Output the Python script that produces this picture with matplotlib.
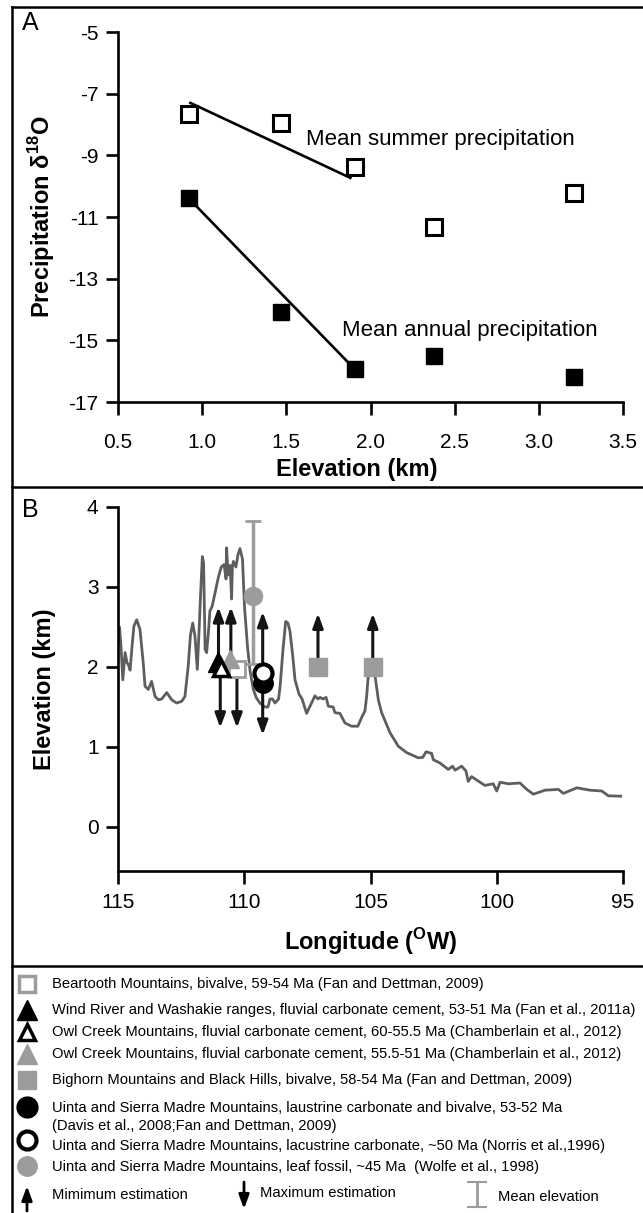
import matplotlib
matplotlib.use('Agg')
import matplotlib.pyplot as plt
from matplotlib.lines import Line2D

plt.rcParams['font.family'] = ['Liberation Sans', 'DejaVu Sans']
plt.rcParams['mathtext.fontset'] = 'custom'
plt.rcParams['mathtext.rm'] = 'Liberation Sans'
plt.rcParams['mathtext.bf'] = 'Liberation Sans:bold'
plt.rcParams['axes.unicode_minus'] = False

# ---- panel A data: precipitation d18O vs elevation
elev_km = [0.92, 1.47, 1.91, 2.38, 3.21]
summer_d18o = [-7.65, -7.95, -9.38, -11.33, -10.23]
annual_d18o = [-10.37, -14.07, -15.92, -15.51, -16.18]
summer_fit_x = [0.93, 1.88]
summer_fit_y = [-7.3, -9.73]
annual_fit_x = [0.93, 1.90]
annual_fit_y = [-10.45, -15.9]

# ---- panel B data: elevation profile along longitude
prof_lon = [115.00, 114.94, 114.88, 114.81, 114.72, 114.64, 114.59, 114.52, 114.46, 114.37,
            114.26, 114.13, 114.00, 113.93, 113.80, 113.67, 113.53, 113.40, 113.27, 113.07,
            112.87, 112.68, 112.48, 112.35, 112.22, 112.13, 112.04, 111.95, 111.86, 111.79,
            111.73, 111.66, 111.61, 111.55, 111.49, 111.42, 111.36, 111.27, 111.14, 111.02,
            110.91, 110.80, 110.72, 110.70, 110.64, 110.56, 110.50, 110.47, 110.43, 110.33,
            110.25, 110.17, 110.07, 109.99, 109.87, 109.77, 109.64, 109.53, 109.38, 109.18,
            109.06, 108.98, 108.88, 108.78, 108.64, 108.58, 108.47, 108.36, 108.27, 108.19,
            108.08, 107.99, 107.83, 107.71, 107.53, 107.20, 107.08, 107.00, 106.88, 106.76,
            106.67, 106.48, 106.41, 106.21, 106.01, 105.75, 105.50, 105.35, 105.22, 105.15,
            105.09, 104.98, 104.82, 104.69, 104.56, 104.23, 103.90, 103.57, 103.11, 102.93,
            102.80, 102.58, 102.51, 102.25, 101.92, 101.75, 101.65, 101.39, 101.22, 101.13,
            101.00, 100.47, 100.14, 100.00, 99.87, 99.54, 99.08, 98.81, 98.55, 98.09,
            97.56, 97.36, 96.83, 96.31, 95.84, 95.58, 95.09]
prof_elev = [2.30, 2.50, 2.25, 1.84, 2.18, 2.05, 2.03, 1.96, 2.20, 2.51,
             2.59, 2.47, 2.05, 1.76, 1.72, 1.82, 1.63, 1.59, 1.60, 1.68,
             1.59, 1.55, 1.57, 1.63, 2.01, 2.40, 2.55, 2.38, 1.97, 2.45,
             2.90, 3.38, 3.30, 2.22, 2.18, 2.43, 2.70, 2.76, 2.95, 3.13,
             3.25, 3.28, 3.10, 3.49, 3.15, 3.27, 2.85, 3.25, 3.32, 3.25,
             3.40, 3.48, 3.35, 2.75, 2.25, 1.95, 1.72, 1.62, 1.55, 1.50,
             1.50, 1.60, 1.60, 1.55, 1.60, 1.76, 2.20, 2.57, 2.55, 2.45,
             2.14, 1.84, 1.66, 1.60, 1.42, 1.64, 1.60, 1.62, 1.60, 1.62,
             1.51, 1.50, 1.43, 1.42, 1.30, 1.26, 1.26, 1.37, 1.45, 1.64,
             1.89, 1.98, 1.89, 1.59, 1.43, 1.18, 1.01, 0.93, 0.865, 0.87,
             0.94, 0.92, 0.84, 0.80, 0.72, 0.76, 0.71, 0.76, 0.70, 0.57,
             0.63, 0.52, 0.54, 0.45, 0.56, 0.54, 0.55, 0.47, 0.41, 0.46,
             0.47, 0.42, 0.49, 0.46, 0.45, 0.39, 0.385]

# paleoelevation estimates (lon, elev, arrow end)
beartooth = (110.29, 1.98, 1.24)
windriver = (111.04, 2.06, 2.75)
owl_open = (110.94, 1.99, 1.24)
owl_gray = (110.56, 2.10, 2.75)
bighorn_lon = [107.08, 104.91]
bighorn_elev = [2.0, 2.0]
bighorn_min = 2.67
uinta_lon = 109.27
uinta_carb_bival = 1.80
uinta_lac = 1.92
uinta_min = 2.69
uinta_max = 1.15
leaf = (109.65, 2.89, 2.04, 3.83)

legend_labels = [
    'Beartooth Mountains, bivalve, 59-54 Ma (Fan and Dettman, 2009)',
    'Wind River and Washakie ranges, fluvial carbonate cement, 53-51 Ma (Fan et al., 2011a)',
    'Owl Creek Mountains, fluvial carbonate cement, 60-55.5 Ma (Chamberlain et al., 2012)',
    'Owl Creek Mountains, fluvial carbonate cement, 55.5-51 Ma (Chamberlain et al., 2012)',
    'Bighorn Mountains and Black Hills, bivalve, 58-54 Ma (Fan and Dettman, 2009)',
    'Uinta and Sierra Madre Mountains, laustrine carbonate and bivalve, 53-52 Ma\n(Davis et al., 2008;Fan and Dettman, 2009)',
    'Uinta and Sierra Madre Mountains, lacustrine carbonate, ~50 Ma (Norris et al.,1996)',
    'Uinta and Sierra Madre Mountains, leaf fossil, ~45 Ma  (Wolfe et al., 1998)',
]

GRAY = '#9c9c9c'
PROF = '#5e5e5e'
ARW = '#141414'

fig = plt.figure(figsize=(6.43, 12.13), dpi=100)
H = 1213.0

def frac(y):
    return 1 - y / H

def style_axes(ax):
    for s in ['top', 'right']:
        ax.spines[s].set_visible(False)
    for s in ['left', 'bottom']:
        ax.spines[s].set_linewidth(1.9)
    ax.tick_params(direction='out', length=9, width=1.9, labelsize=15)

def arrow(ax, x, y0, y1):
    ax.annotate('', xy=(x, y1), xytext=(x, y0),
                arrowprops=dict(arrowstyle='-|>,head_length=0.6,head_width=0.22',
                                color=ARW, lw=2.2, mutation_scale=14,
                                shrinkA=0, shrinkB=0), zorder=3)

# ---------------- panel A
axA = fig.add_axes([118 / 643, frac(402), 505 / 643, 370 / H])
style_axes(axA)
axA.plot(summer_fit_x, summer_fit_y, color='black', lw=1.9, zorder=2)
axA.plot(annual_fit_x, annual_fit_y, color='black', lw=1.9, zorder=2)
axA.plot(elev_km, summer_d18o, 's', ms=11, mfc='white', mec='black', mew=2.2, ls='none', zorder=3)
axA.plot(elev_km, annual_d18o, 's', ms=12, mfc='black', mec='black', ls='none', zorder=3)
axA.set_xlim(0.5, 3.5)
axA.set_ylim(-17, -5)
axA.set_xticks([0.5, 1.0, 1.5, 2.0, 2.5, 3.0, 3.5])
axA.set_xticklabels(['0.5', '1.0', '1.5', '2.0', '2.5', '3.0', '3.5'])
axA.set_yticks([-5, -7, -9, -11, -13, -15, -17])
axA.tick_params(axis='x', pad=13)
axA.tick_params(axis='y', pad=5)
axA.text(1.615, -8.5, 'Mean summer precipitation', fontsize=16, va='center')
axA.text(1.83, -14.68, 'Mean annual precipitation', fontsize=16, va='center')
axA.set_xlabel('Elevation (km)', fontsize=17, fontweight='bold')
axA.xaxis.set_label_coords(0.473, -0.15)
axA.set_ylabel('Precipitation δ$^{\\mathbf{18}}$O', fontsize=17, fontweight='bold')
axA.yaxis.set_label_coords(-0.12, 0.5)

# ---------------- panel B
axB = fig.add_axes([118 / 643, frac(871), 505 / 643, 364 / H])
style_axes(axB)
axB.plot(prof_lon, prof_elev, color=PROF, lw=2, zorder=1)
axB.errorbar(leaf[0], leaf[1], yerr=[[leaf[1] - leaf[2]], [leaf[3] - leaf[1]]],
             fmt='o', ms=13, color=GRAY, ecolor=GRAY, elinewidth=2.5,
             capsize=6, capthick=2, zorder=2)
arrow(axB, windriver[0] - 0.02, windriver[1], windriver[2])
arrow(axB, owl_gray[0] - 0.03, owl_gray[1], owl_gray[2])
arrow(axB, owl_open[0] + 0.01, owl_open[1], owl_open[2])
arrow(axB, beartooth[0], beartooth[1], beartooth[2])
for lon, el in zip(bighorn_lon, bighorn_elev):
    arrow(axB, lon, el, bighorn_min)
arrow(axB, uinta_lon, uinta_lac, uinta_min)
arrow(axB, uinta_lon, uinta_carb_bival, uinta_max)
axB.plot(beartooth[0], beartooth[1], 's', ms=11, mfc='white', mec=GRAY, mew=2, zorder=4)
axB.plot(owl_gray[0], owl_gray[1], '^', ms=13, color=GRAY, zorder=4)
axB.plot(windriver[0], windriver[1], '^', ms=15, color='black', zorder=5)
axB.plot(owl_open[0], owl_open[1], '^', ms=12, mfc='white', mec='black', mew=2.5, zorder=6)
axB.plot(bighorn_lon, bighorn_elev, 's', ms=12.5, color=GRAY, ls='none', zorder=4)
axB.plot(uinta_lon, uinta_carb_bival, 'o', ms=14, color='black', zorder=5)
axB.plot(uinta_lon, uinta_lac, 'o', ms=13, mfc='white', mec='black', mew=3, zorder=6)
axB.set_xlim(115, 95)
axB.set_ylim(-0.55, 4)
axB.set_xticks([115, 110, 105, 100, 95])
axB.set_yticks([0, 1, 2, 3, 4])
axB.tick_params(axis='x', pad=7)
axB.tick_params(axis='y', pad=5)
axB.set_xlabel('Longitude ($^{\\mathbf{O}}$W)', fontsize=17, fontweight='bold')
axB.xaxis.set_label_coords(0.5, -0.152)
axB.set_ylabel('Elevation (km)', fontsize=17, fontweight='bold')
axB.yaxis.set_label_coords(-0.122, 0.5)

# panel letters and frame
fig.text(22 / 643, frac(23), 'A', fontsize=18, va='center', ha='left')
fig.text(22 / 643, frac(510), 'B', fontsize=18, va='center', ha='left')
x0 = 12 / 643
fig.add_artist(Line2D([x0, x0], [0, frac(7)], color='black', lw=1.8))
for yy in [7, 487, 966]:
    fig.add_artist(Line2D([x0, 1], [frac(yy), frac(yy)], color='black', lw=1.8))

# ---------------- legend panel
axL = fig.add_axes([0, 0, 1, (H - 966) / H])
axL.set_xlim(0, 643)
axL.set_ylim(H, 966)
axL.axis('off')
sym_x = 27
txt_x = 52
row_y = [984, 1010, 1032, 1054, 1080, 1117, 1146, 1167]
sym_y = [984, 1010, 1032, 1054, 1080, 1107, 1140, 1166]
axL.plot(sym_x, sym_y[0], 's', ms=11, mfc='white', mec=GRAY, mew=2.5)
axL.plot(sym_x, sym_y[1], '^', ms=14, color='black')
axL.plot(sym_x, sym_y[2], '^', ms=12, mfc='white', mec='black', mew=2.5)
axL.plot(sym_x, sym_y[3], '^', ms=14, color=GRAY)
axL.plot(sym_x, sym_y[4], 's', ms=12.5, color=GRAY)
axL.plot(sym_x, sym_y[5], 'o', ms=15, color='black')
axL.plot(sym_x, sym_y[6], 'o', ms=13, mfc='white', mec='black', mew=3)
axL.plot(sym_x, sym_y[7], 'o', ms=14, color=GRAY)
for lab, yy in zip(legend_labels, row_y):
    axL.text(txt_x, yy, lab, fontsize=10.6, va='center', ha='left', linespacing=1.45)

axL.annotate('', xy=(sym_x, 1186), xytext=(sym_x, 1211),
             arrowprops=dict(arrowstyle='-|>,head_length=0.6,head_width=0.22',
                             color='black', lw=2, mutation_scale=14, shrinkA=0, shrinkB=0))
axL.text(txt_x, 1195, 'Mimimum estimation', fontsize=10.6, va='center')
axL.annotate('', xy=(244, 1209), xytext=(244, 1182),
             arrowprops=dict(arrowstyle='-|>,head_length=0.6,head_width=0.22',
                             color='black', lw=2, mutation_scale=14, shrinkA=0, shrinkB=0))
axL.text(260, 1193, 'Maximum estimation', fontsize=10.6, va='center')
axL.errorbar(477, 1194.5, yerr=12.5, fmt='none', ecolor=GRAY, elinewidth=2,
             capsize=7, capthick=1.5)
axL.text(498, 1197, 'Mean elevation', fontsize=10.6, va='center')

fig.savefig('out.png', dpi=100)
